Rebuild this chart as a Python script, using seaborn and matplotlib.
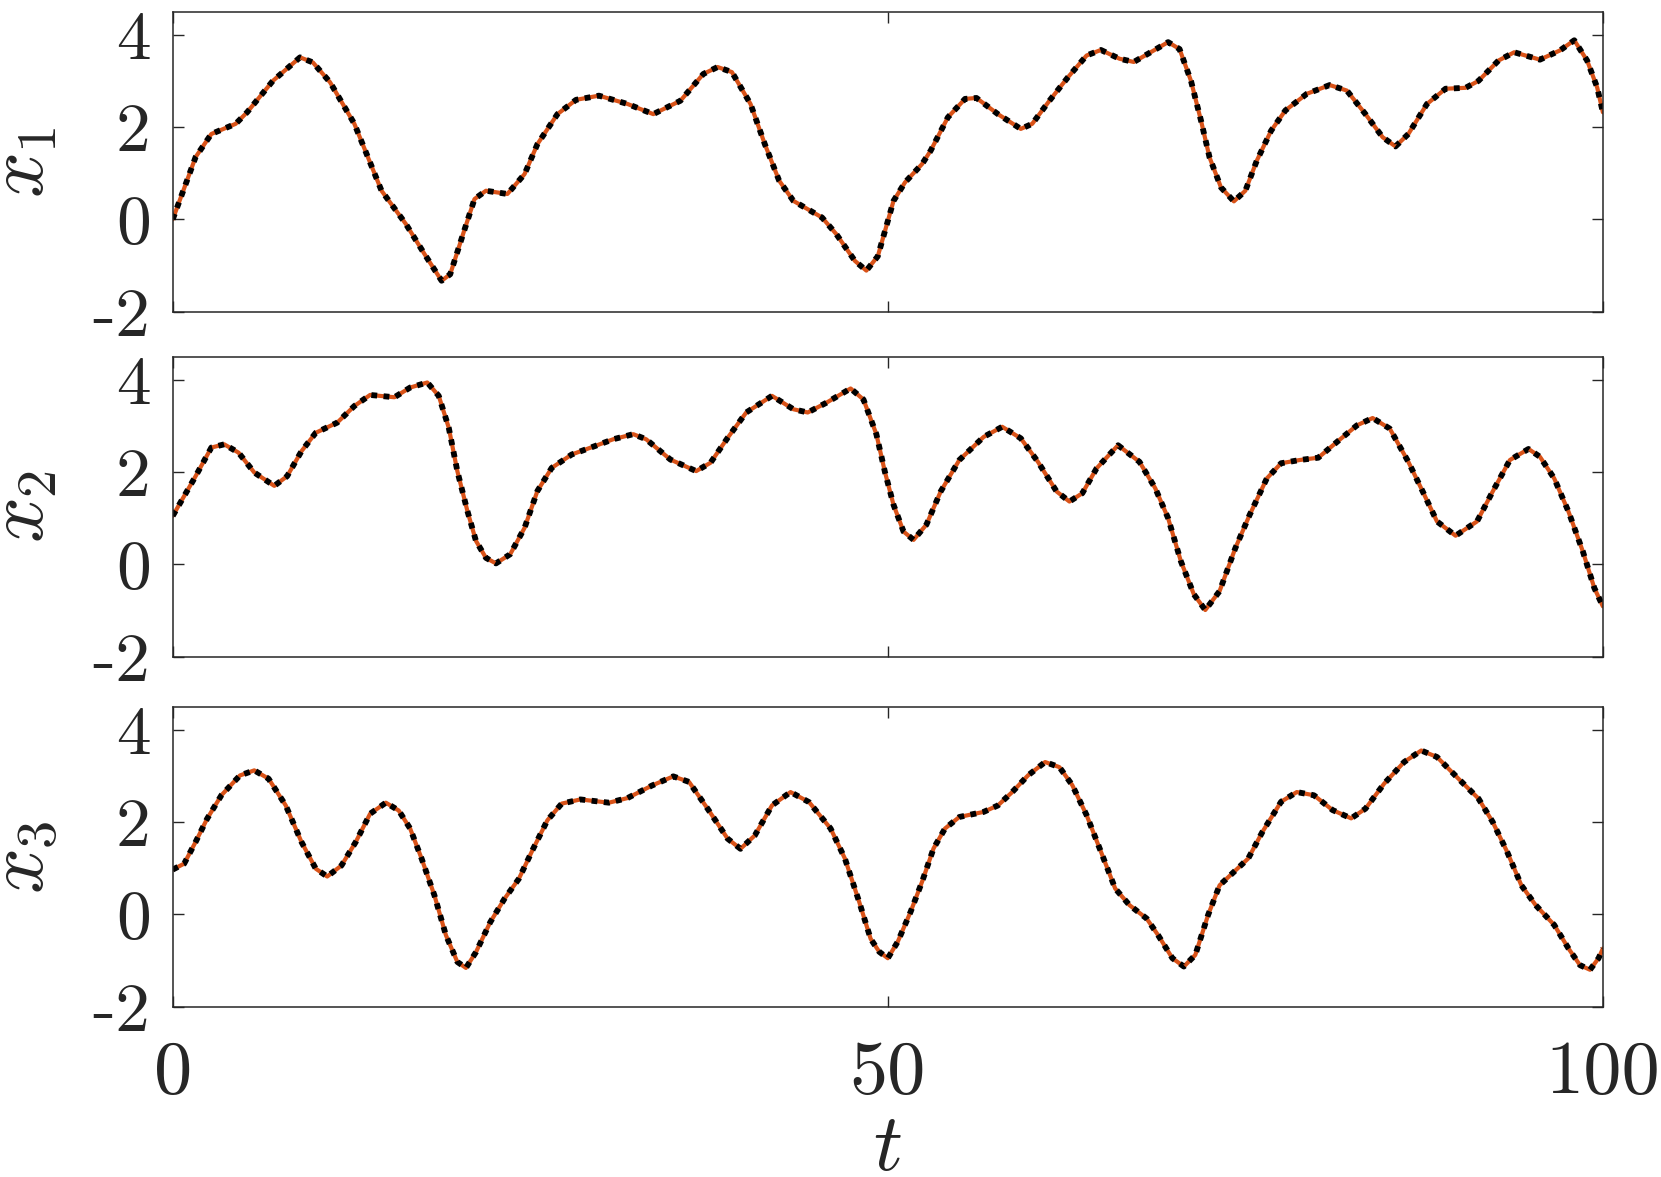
import numpy as np
import matplotlib
matplotlib.use("Agg")
import matplotlib.pyplot as plt
import seaborn as sns

# ---- data (t, value) ----
t_x1 = [0, 1.6, 2.7, 4.4, 5.2, 7.0, 8.9, 9.8, 11.0, 12.7, 14.6, 16.3, 17.6, 18.8, 19.4,
        20.3, 21.1, 21.9, 23.4, 24.6, 25.5, 26.9, 28.2, 29.8, 31.8, 33.6, 35.5, 37.1, 38.1,
        39.1, 40.4, 41.4, 42.4, 43.4, 45.4, 46.4, 47.7, 48.5, 49.3, 50.4, 51.2, 52.4, 53.0,
        54.2, 55.4, 56.2, 57.7, 59.3, 60.1, 61.3, 62.6, 63.9, 64.9, 66.2, 67.2, 68.6, 69.6,
        70.4, 71.2, 71.9, 72.5, 73.3, 74.2, 75.0, 75.8, 76.8, 77.8, 79.3, 80.9, 82.1, 83.4,
        84.6, 85.5, 86.4, 87.7, 89.0, 90.4, 91.3, 92.7, 93.8, 95.6, 97.0, 98.0, 98.9, 99.6, 100]
x1 = [0.0, 1.35, 1.85, 2.07, 2.32, 3.0, 3.51, 3.4, 2.97, 2.07, 0.62, -0.1, -0.75, -1.33, -1.19,
      -0.32, 0.44, 0.62, 0.55, 0.98, 1.63, 2.28, 2.59, 2.68, 2.5, 2.28, 2.57, 3.15, 3.3,
      3.19, 2.5, 1.63, 0.84, 0.40, 0.04, -0.32, -0.9, -1.11, -0.8, 0.40, 0.80, 1.2, 1.49,
      2.21, 2.61, 2.63, 2.28, 1.96, 2.07, 2.57, 3.08, 3.55, 3.67, 3.48, 3.41, 3.66, 3.84,
      3.69, 3.0, 2.14, 1.34, 0.69, 0.39, 0.62, 1.27, 1.92, 2.36, 2.72, 2.91, 2.79, 2.28,
      1.78, 1.58, 1.85, 2.5, 2.83, 2.85, 3.0, 3.44, 3.62, 3.46, 3.66, 3.88, 3.44, 2.86, 2.32]

t_x2 = [0, 0.8, 1.6, 2.7, 3.6, 4.6, 5.7, 7.1, 8.0, 9.0, 10.0, 11.5, 12.7, 13.8, 15.5, 16.6,
        17.8, 18.6, 19.3, 19.9, 20.6, 21.2, 21.9, 22.6, 23.6, 24.6, 25.5, 26.5, 27.9, 29.5,
        30.8, 32.2, 33.1, 34.8, 36.6, 37.6, 38.8, 40.1, 41.9, 43.4, 44.4, 45.7, 47.4, 48.3,
        49.2, 49.8, 50.4, 51.1, 51.8, 52.7, 53.7, 55.0, 56.7, 58.0, 59.3, 60.5, 61.8, 62.7,
        63.6, 64.6, 66.1, 67.6, 68.7, 69.6, 70.5, 71.4, 72.2, 73.2, 74.3, 75.3, 76.5, 77.5,
        78.8, 80.1, 81.4, 82.8, 83.9, 85.1, 86.4, 87.4, 88.4, 89.7, 91.2, 92.3, 93.5, 94.8,
        95.6, 96.6, 97.6, 98.6, 99.4, 100]
x2 = [1.05, 1.48, 1.91, 2.53, 2.6, 2.42, 1.99, 1.70, 1.91, 2.45, 2.85, 3.07, 3.43, 3.67, 3.62, 3.83,
      3.94, 3.65, 2.96, 2.02, 1.16, 0.51, 0.14, 0.02, 0.22, 0.79, 1.59, 2.09, 2.38, 2.56,
      2.71, 2.82, 2.71, 2.27, 2.02, 2.2, 2.74, 3.29, 3.65, 3.36, 3.29, 3.5, 3.81, 3.57,
      2.82, 2.0, 1.29, 0.71, 0.53, 0.86, 1.58, 2.26, 2.76, 2.98, 2.73, 2.22, 1.58, 1.36,
      1.54, 2.08, 2.58, 2.22, 1.65, 1.0, 0.06, -0.65, -0.99, -0.58, 0.35, 1.07, 1.86, 2.19,
      2.26, 2.31, 2.65, 3.01, 3.17, 2.94, 2.22, 1.58, 0.93, 0.62, 0.93, 1.58, 2.26, 2.5,
      2.33, 1.86, 1.14, 0.28, -0.51, -0.91]

t_x3 = [0, 0.8, 1.6, 2.4, 3.4, 4.7, 5.7, 6.7, 7.9, 9.0, 10.0, 10.8, 11.8, 12.8, 13.8, 14.9,
        15.8, 16.6, 17.4, 18.3, 19.1, 19.9, 20.5, 21.2, 22.2, 23.2, 24.2, 25.2, 26.2, 27.2,
        28.5, 30.5, 31.8, 33.5, 35.0, 36.1, 37.4, 38.8, 39.7, 40.7, 41.9, 43.2, 44.5, 46.0,
        47.0, 48.0, 48.8, 49.4, 50.0, 50.7, 51.6, 52.4, 53.2, 54.0, 55.0, 56.7, 57.7, 58.7,
        59.8, 61.0, 62.0, 62.9, 63.9, 64.9, 65.9, 66.9, 68.1, 68.9, 69.9, 70.7, 71.5, 72.4,
        73.2, 74.2, 75.2, 76.2, 77.5, 78.6, 79.8, 81.1, 82.4, 83.4, 84.7, 86.1, 87.3, 88.4,
        89.9, 91.3, 92.3, 93.3, 94.3, 95.3, 96.6, 97.6, 98.4, 99.1, 99.7, 100]
x3 = [0.97, 1.1, 1.57, 2.07, 2.58, 3.01, 3.12, 2.94, 2.36, 1.57, 0.99, 0.82, 1.06, 1.57, 2.18, 2.42,
      2.25, 1.86, 1.21, 0.41, -0.45, -1.03, -1.16, -0.82, -0.17, 0.34, 0.77, 1.42, 2.04, 2.4,
      2.49, 2.42, 2.52, 2.79, 2.99, 2.87, 2.29, 1.64, 1.42, 1.71, 2.36, 2.65, 2.43, 1.86,
      1.21, 0.27, -0.53, -0.81, -0.95, -0.59, 0.06, 0.71, 1.43, 1.86, 2.11, 2.22, 2.36, 2.65,
      3.01, 3.3, 3.19, 2.8, 2.15, 1.36, 0.56, 0.2, -0.09, -0.45, -0.95, -1.13, -0.88, -0.01,
      0.63, 0.92, 1.21, 1.79, 2.44, 2.65, 2.58, 2.26, 2.08, 2.29, 2.83, 3.3, 3.55, 3.41,
      2.94, 2.51, 2.0, 1.36, 0.63, 0.2, -0.23, -0.74, -1.1, -1.2, -0.95, -0.74]

panels = [(t_x1, x1, r"$x_1$"), (t_x2, x2, r"$x_2$"), (t_x3, x3, r"$x_3$")]

xticks = [0, 50, 100]
xtick_labels = ["0", "50", "100"]
yticks = [-2, 0, 2, 4]
ytick_labels = ["-2", "0", "2", "4"]

sns.set_theme(style="ticks")
plt.rcParams["font.family"] = ["cmr10", "DejaVu Serif"]
plt.rcParams["mathtext.fontset"] = "cm"
plt.rcParams["axes.formatter.use_mathtext"] = True

dark = "#262626"
orange = "#D95319"

fig = plt.figure(figsize=(16.61, 11.77), dpi=100)
bottoms = [0.7352, 0.4421, 0.1447]

for i, (tt, vals, lab) in enumerate(panels):
    ax = fig.add_axes([0.104, bottoms[i], 0.861, 0.2549])
    # solid orange reference, black dotted overlay on top
    sns.lineplot(x=tt, y=vals, ax=ax, color=orange, linewidth=3.0, estimator=None, sort=False)
    sns.lineplot(x=tt, y=vals, ax=ax, color="black", linewidth=4.2, estimator=None, sort=False,
                 linestyle=(0, (1.0, 1.1)), dash_capstyle="butt")
    ax.set_xlim(0, 100)
    ax.set_ylim(-2, 4.5)
    ax.set_yticks(yticks, labels=ytick_labels)
    ax.set_xticks(xticks, labels=xtick_labels)
    ax.tick_params(axis="both", direction="in", length=8, width=1.0, color=dark,
                   labelcolor=dark, top=True, right=True)
    ax.tick_params(axis="y", labelsize=50, pad=16)
    ax.tick_params(axis="x", labelsize=55, pad=24)
    if i < 2:
        ax.tick_params(axis="x", labelbottom=False)
        ax.set_xlabel("")
    else:
        ax.set_xlabel(r"$t$", fontsize=58, color=dark)
        ax.xaxis.set_label_coords(0.5, -0.36)
    ax.set_ylabel(lab, fontsize=58, color=dark)
    ax.yaxis.set_label_coords(-0.079, 0.5)
    for sp in ax.spines.values():
        sp.set_color(dark)
        sp.set_linewidth(1.1)

fig.savefig("out.png", dpi=100)
